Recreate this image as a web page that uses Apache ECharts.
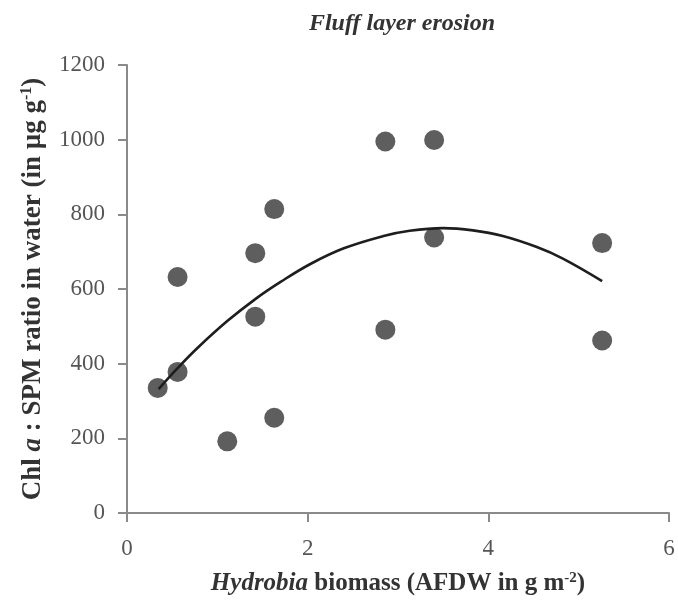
<!DOCTYPE html>
<html>
<head>
<meta charset="utf-8">
<script src="https://cdn.jsdelivr.net/npm/echarts@6/dist/echarts.min.js"></script>
<style>
html,body{margin:0;padding:0;background:#fff;}
#chart{width:678px;height:605px;}
</style>
</head>
<body>
<div id="chart"></div>
<script>
// Observed points
var biomassX = [0.34, 0.56, 0.56, 1.11, 1.42, 1.42, 1.63, 1.63, 2.86, 2.86, 3.40, 3.40, 5.26, 5.26];
var ratioY   = [335, 378, 632, 192, 696, 526, 814, 255, 995, 491, 999, 738, 723, 462];
// Fitted curve
var fitX = [0.35, 0.56, 0.78, 1.11, 1.42, 1.70, 2.03, 2.40, 2.84, 3.13, 3.50, 3.83, 4.16, 4.53, 4.82, 5.26];
var fitY = [332, 388, 442, 514, 573, 619, 667, 709, 742, 756, 763, 757, 742, 713, 682, 621];
var xTicks = [0, 2, 4, 6];
var yTicks = [0, 200, 400, 600, 800, 1000, 1200];

var pts = biomassX.map(function (x, i) { return [x, ratioY[i]]; });
var curve = fitX.map(function (x, i) { return [x, fitY[i]]; });

var serif = '"Liberation Serif", "DejaVu Serif", serif';
var axisCol = '#8a8a8a';
function makeRich(fs) {
  return {
    bi: {fontFamily: serif, fontStyle: 'italic', fontWeight: 'bold', fontSize: fs, color: '#333'},
    b: {fontFamily: serif, fontWeight: 'bold', fontSize: fs, color: '#333'},
    sup: {fontFamily: serif, fontWeight: 'bold', fontSize: Math.round(fs * 0.6), color: '#333', verticalAlign: 'top', padding: [0, 0, Math.round(fs * 0.45), 0]}
  };
}

var chart = echarts.init(document.getElementById('chart'), null, {renderer: 'canvas'});
chart.setOption({
  backgroundColor: '#ffffff',
  animation: false,
  title: {
    text: 'Fluff layer erosion',
    left: 397, top: 7, textAlign: 'center',
    textStyle: {fontFamily: serif, fontStyle: 'italic', fontWeight: 'bold', fontSize: 24, color: '#333'}
  },
  grid: {left: 127, right: 9, top: 65, bottom: 92, containLabel: false},
  xAxis: {
    type: 'value', min: xTicks[0], max: xTicks[xTicks.length - 1], interval: 2,
    splitLine: {show: false},
    axisLine: {lineStyle: {color: axisCol, width: 2}},
    axisTick: {show: true, inside: false, length: 9, lineStyle: {color: axisCol, width: 2}},
    axisLabel: {margin: 24, fontFamily: serif, fontSize: 23, color: '#555',
      formatter: function (v) { return String(v); }},
    name: '{bi|Hydrobia}{b| biomass (AFDW in g m}{sup|-2}{b|)}',
    nameLocation: 'middle', nameGap: 58,
    nameTextStyle: {rich: makeRich(25)}
  },
  yAxis: {
    type: 'value', min: yTicks[0], max: yTicks[yTicks.length - 1], interval: 200,
    splitLine: {show: false},
    axisLine: {lineStyle: {color: axisCol, width: 2}},
    axisTick: {show: true, inside: false, length: 9, lineStyle: {color: axisCol, width: 2}},
    axisLabel: {margin: 22, fontFamily: serif, fontSize: 23, color: '#555',
      formatter: function (v) { return String(v); }},
    name: '{b|Chl }{bi|a}{b| : SPM ratio in water (in µg g}{sup|-1}{b|)}',
    nameLocation: 'middle', nameGap: 80, nameRotate: 90,
    nameTextStyle: {rich: makeRich(27)}
  },
  series: [
    {
      type: 'scatter', data: pts, symbol: 'circle', symbolSize: 20,
      itemStyle: {color: '#5e5e5e', opacity: 1}, z: 2
    },
    {
      type: 'line', data: curve, smooth: 0.4, showSymbol: false, symbol: 'none',
      lineStyle: {color: '#1e1e1e', width: 2.6}, z: 3
    }
  ]
});
</script>
</body>
</html>
